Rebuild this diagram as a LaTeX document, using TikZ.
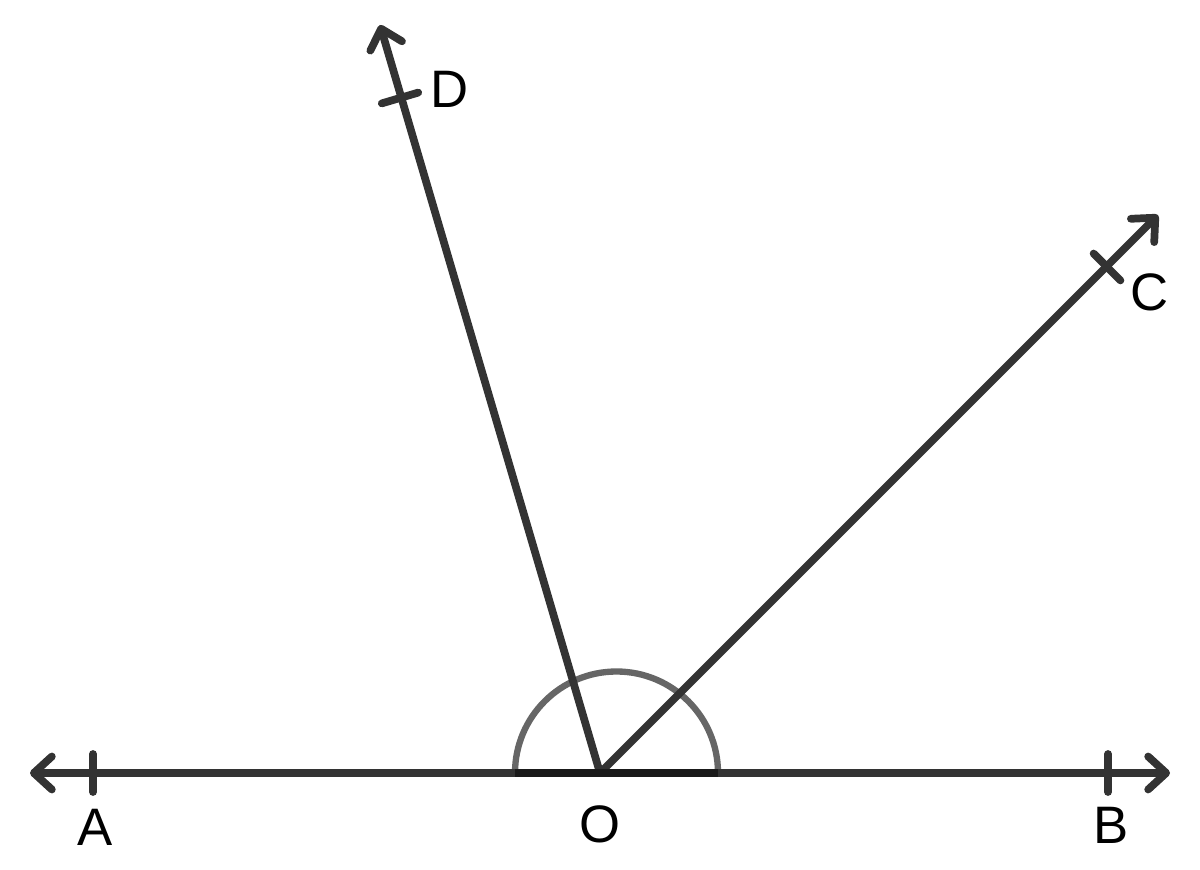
\documentclass[tikz,border=0pt]{standalone}
\usepackage{fontspec}
\setmainfont{Liberation Sans}
\usetikzlibrary{positioning, arrows.meta, calc}
\definecolor{ink}{HTML}{333333}
\definecolor{arcgray}{HTML}{666666}
\definecolor{deepink}{HTML}{1A1A1A}

\begin{document}
\begin{tikzpicture}[node distance=8pt,
		ray/.style={draw=ink, line width=4.4pt, -{Straight Barb[length=0.36cm, width=0.66cm, round]}},
		tick/.style={draw=ink, line width=4.4pt, line cap=round},
		lbl/.style={draw=none, fill=none, font=\fontsize{30}{35}\selectfont}]
			\useasboundingbox (0,0) rectangle (24,17.38);
			\coordinate (O)  at (12,1.92);
			\coordinate (Aend) at (0.6,1.92);
			\coordinate (Bend) at (23.4,1.92);
			\coordinate (Dend) at (7.6,16.88);
			\coordinate (Cend) at (23.16,13.08);
			\coordinate (At) at (1.86,1.92);
			\coordinate (Bt) at (22.16,1.92);
			\coordinate (Dt) at (8.0,15.42);
			\coordinate (Ct) at (22.14,12.04);

			% half circle at O
			\draw[arcgray, line width=3.6pt] (10.3,1.92) arc (180:0:2.03);

			\draw[ray, {Straight Barb[length=0.36cm, width=0.66cm, round]}-{Straight Barb[length=0.36cm, width=0.66cm, round]}] (Aend) -- (Bend);
			\draw[ray] (O) -- (Dend);
			\draw[ray] (O) -- (Cend);
			\draw[deepink, line width=4.4pt] (10.3,1.92) -- (14.36,1.92);

			\draw[tick] ($(At)+(0,0.38)$) -- ($(At)+(0,-0.38)$);
			\draw[tick] ($(Bt)+(0,0.38)$) -- ($(Bt)+(0,-0.38)$);
			\draw[tick] ($(Dt)!0.38cm!90:(O)$) -- ($(Dt)!0.38cm!-90:(O)$);
			\draw[tick] ($(Ct)!0.38cm!90:(O)$) -- ($(Ct)!0.38cm!-90:(O)$);

			\node[lbl, below=17pt of At, xshift=1pt]  (A)  {A};
			\node[lbl, below=15pt of O]  (Olbl)  {O};
			\node[lbl, below=16pt of Bt, xshift=2pt]  (B)  {B};
			\node[lbl, right=14pt of Dt, yshift=5pt]  (D)  {D};
			\node[lbl, below right=0pt and 10pt of Ct]  (C)  {C};
		\end{tikzpicture}
\end{document}
